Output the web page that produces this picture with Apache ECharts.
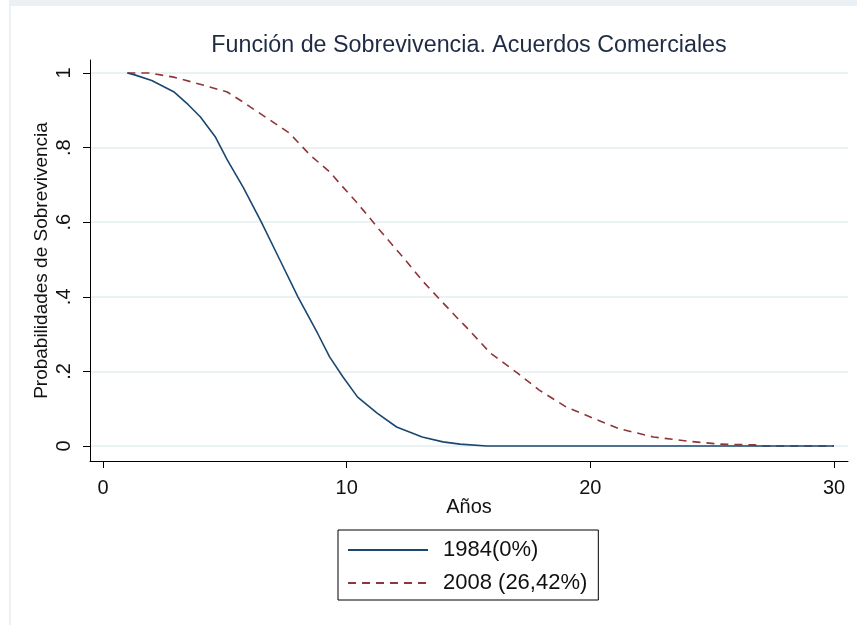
<!DOCTYPE html>
<html>
<head>
<meta charset="utf-8">
<script src="https://cdn.jsdelivr.net/npm/echarts@6/dist/echarts.min.js"></script>
<style>
html,body{margin:0;padding:0;background:#fff;}
#c{width:857px;height:625px;}
</style>
</head>
<body>
<div id="c"></div>
<script>
// ---- data ----
var titleText = 'Función de Sobrevivencia. Acuerdos Comerciales';
var xName = 'Años';
var yName = 'Probabilidades de Sobrevivencia';
var xTicks = [0, 10, 20, 30];
var yTicks = [0, 0.2, 0.4, 0.6, 0.8, 1];
var seriesNames = ['1984(0%)', '2008 (26,42%)'];
var s1984 = [[1,1],[1.3,0.995],[2,0.98],[2.9,0.95],[3.5,0.915],[4.0,0.882],[4.6,0.83],[5.1,0.767],[5.75,0.694],[6.5,0.60],[7.25,0.50],[8.0,0.40],[8.8,0.303],[9.3,0.239],[9.85,0.185],[10.45,0.131],[11.25,0.088],[12.05,0.051],[13.1,0.024],[13.95,0.011],[14.65,0.005],[15.75,0],[30,0]];
var s2008 = [[1,1],[1.9,1.0],[2.9,0.989],[4.1,0.968],[5.1,0.949],[5.75,0.922],[6.85,0.874],[7.65,0.839],[8.5,0.78],[9.3,0.735],[9.85,0.694],[10.4,0.654],[10.85,0.619],[11.35,0.579],[12.3,0.507],[13.15,0.44],[13.85,0.391],[14.5,0.346],[14.95,0.316],[15.9,0.249],[17.0,0.196],[17.9,0.15],[19.0,0.105],[20.1,0.075],[21.2,0.046],[22.6,0.024],[24.0,0.013],[25.3,0.005],[26.7,0.003],[27.2,0],[30,0]];

var FONT = '"Liberation Sans", Arial, sans-serif';
var chart = echarts.init(document.getElementById('c'), null, {renderer:'canvas'});

function yFmt(v){
  if (Math.abs(v) < 1e-9) return '0';
  if (Math.abs(v - 1) < 1e-9) return '1';
  return String(Math.round(v*10)/10).replace(/^0/, '');
}

var option = {
  animation: false,
  backgroundColor: '#ffffff',
  textStyle: {fontFamily: FONT},
  graphic: [
    {type:'rect', shape:{x:9, y:0, width:848, height:6}, style:{fill:'#eaf0f3'}, silent:true, z:0},
    {type:'rect', shape:{x:9, y:0, width:2, height:625}, style:{fill:'#eaf0f3'}, silent:true, z:0}
  ],
  title: {
    text: titleText,
    left: 464, top: 29, textAlign: 'center',
    textStyle: {fontFamily: FONT, fontSize: 23.3, fontWeight: 'normal', color: '#1f2a44'}
  },
  grid: {left: 90, right: 9, top: 60, bottom: 164, containLabel: false},
  xAxis: {
    type: 'value', min: -0.533, max: 30.574,
    axisLine: {show: true, onZero: false, lineStyle: {color: '#000', width: 1}},
    axisTick: {show: true, inside: false, length: 7, customValues: xTicks, lineStyle:{color:'#000'}},
    axisLabel: {customValues: xTicks, fontFamily: FONT, fontSize: 20, color: '#111', margin: 17},
    splitLine: {show: false},
    name: xName, nameLocation: 'middle', nameGap: 36, nameMoveOverlap: false,
    nameTextStyle: {fontFamily: FONT, fontSize: 20, color: '#111'}
  },
  yAxis: {
    type: 'value', min: -0.0402, max: 1.0349,
    axisLine: {show: true, onZero: false, lineStyle: {color: '#000', width: 1}},
    axisTick: {show: true, inside: false, length: 7, customValues: yTicks, lineStyle:{color:'#000'}},
    axisLabel: {customValues: yTicks, formatter: yFmt, rotate: 90, fontFamily: FONT, fontSize: 20, color: '#111', margin: 16},
    splitLine: {show: false},
    name: yName, nameLocation: 'middle', nameGap: 39, nameRotate: 90, nameMoveOverlap: false,
    nameTextStyle: {fontFamily: FONT, fontSize: 19, color: '#111'}
  },
  legend: {
    orient: 'vertical', left: 338, top: 530,
    data: seriesNames,
    itemWidth: 80, itemHeight: 14, itemGap: 11,
    padding: [9, 11, 6, 9],
    borderColor: '#000', borderWidth: 1,
    itemStyle: {opacity: 0},
    textStyle: {fontFamily: FONT, fontSize: 22, color: '#111', padding: [0, 0, 0, 10]}
  },
  series: [
    {
      type: 'line', name: '_grid', data: [], silent: true, z: 1,
      markLine: {
        silent: true, symbol: 'none', animation: false, z: 0,
        label: {show: false},
        lineStyle: {color: '#eaf2f3', width: 2, type: 'solid'},
        data: yTicks.map(function(v){ return {yAxis: v}; })
      }
    },
    {
      type: 'line', name: seriesNames[0], data: s1984, showSymbol: false, symbol: 'none', z: 3,
      lineStyle: {color: '#1a476f', width: 1.6},
      itemStyle: {color: '#1a476f'}
    },
    {
      type: 'line', name: seriesNames[1], data: s2008, showSymbol: false, symbol: 'none', z: 2,
      lineStyle: {color: '#90353b', width: 1.6, type: [8, 6]},
      itemStyle: {color: '#90353b'}
    }
  ]
};
chart.setOption(option);
</script>
</body>
</html>
